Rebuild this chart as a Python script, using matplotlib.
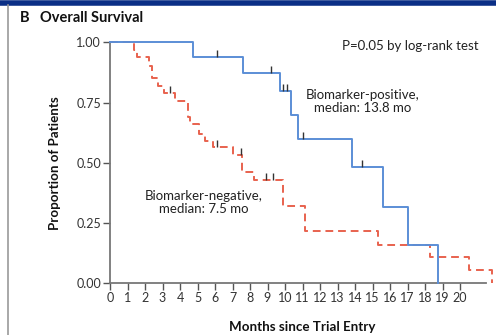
import matplotlib
matplotlib.use("Agg")
import matplotlib.pyplot as plt
from matplotlib.lines import Line2D

plt.rcParams['font.family'] = ['Lato', 'DejaVu Sans']

# Biomarker-positive (blue) step curve
pos_t = [0, 4.72, 7.58, 9.71, 10.32, 10.72, 13.81, 15.62, 17.03, 18.76]
pos_s = [1.0, 0.938, 0.871, 0.798, 0.698, 0.600, 0.484, 0.318, 0.159, 0.0]
pos_cens_t = [6.13, 9.2, 9.9, 10.1, 11.05, 14.42]

# Biomarker-negative (red) step curve
neg_t = [0, 1.35, 1.55, 2.25, 2.4, 2.75, 3.1, 3.7, 4.45, 4.55, 5.1, 5.4, 5.9,
         7.0, 7.55, 8.2, 9.9, 11.15, 15.3, 18.3, 20.5, 21.8]
neg_s = [1.0, 0.97, 0.94, 0.90, 0.853, 0.82, 0.79, 0.756, 0.69, 0.66, 0.62, 0.59,
         0.567, 0.532, 0.46, 0.43, 0.32, 0.217, 0.159, 0.108, 0.055, 0.0]
neg_cens_t = [3.43, 6.1, 7.47, 8.9, 9.3]

x_ticks = list(range(0, 21))
y_ticks = [0.0, 0.25, 0.5, 0.75, 1.0]
y_ticklabels = ["0.00", "0.25", "0.50", "0.75", "1.00"]


def surv_at(ts, ss, t):
    v = ss[0]
    for ti, si in zip(ts, ss):
        if ti <= t:
            v = si
    return v


W, H = 496, 335
fig = plt.figure(figsize=(W / 100, H / 100), dpi=100)
fig.patch.set_facecolor("white")

ax = fig.add_axes([110 / W, 1 - 283.3 / H, (495 - 110) / W, (283.3 - 42.3) / H])
ax.set_xlim(0, 22)
ax.set_ylim(0, 1)

blue = "#5b8ed6"
red = "#e8624e"
ax.step(pos_t + [pos_t[-1]], pos_s + [pos_s[-1]], where="post", color=blue, lw=1.4,
        clip_on=False, zorder=3)
ax.step(neg_t, neg_s, where="post", color=red, lw=1.4, ls=(0, (4, 2.5)),
        clip_on=False, zorder=2)

for t in pos_cens_t:
    ax.plot([t], [surv_at(pos_t, pos_s, t)], marker=2, ms=5, mew=1.0,
            color="#333333", zorder=4, clip_on=False)
for t in neg_cens_t:
    ax.plot([t], [surv_at(neg_t, neg_s, t)], marker=2, ms=5, mew=1.0,
            color="#333333", zorder=4, clip_on=False)

for s in ["top", "right"]:
    ax.spines[s].set_visible(False)
for s in ["left", "bottom"]:
    ax.spines[s].set_color("#777777")
    ax.spines[s].set_linewidth(1.3)
ax.spines["bottom"].set_bounds(0, 21.5)

ax.set_xticks(x_ticks)
ax.set_xticklabels([str(v) for v in x_ticks])
ax.set_yticks(y_ticks)
ax.set_yticklabels(y_ticklabels)
ax.tick_params(axis="both", direction="out", length=5, width=1.0, color="#555555",
               labelsize=9, labelcolor="#333333", pad=1.5)

ax.set_ylabel("Proportion of Patients", fontsize=9.6, fontweight="bold", labelpad=11,
              color="#111111")
ax.set_xlabel("Months since Trial Entry", fontsize=9.6, fontweight="bold", labelpad=12,
              color="#111111")

ax.text(21.05, 0.985, "P=0.05 by log-rank test", ha="right", va="center", fontsize=9.5,
        color="#222222")
ax.text(14.45, 0.755, "Biomarker-positive,\nmedian: 13.8 mo", ha="center", va="center",
        fontsize=9.5, color="#222222", linespacing=1.15)
ax.text(5.35, 0.335, "Biomarker-negative,\nmedian: 7.5 mo", ha="center", va="center",
        fontsize=9.5, color="#222222", linespacing=1.15)

# Frame decorations
fig.add_artist(Line2D([0, 1], [1 - 2.5 / H, 1 - 2.5 / H], color="#0b2f86", lw=4,
                      transform=fig.transFigure))
fig.add_artist(Line2D([8 / W, 8 / W], [0, 1 - 5 / H], color="#999999", lw=1.2,
                      transform=fig.transFigure))

fig.text(20 / W, 1 - 18 / H, "B", fontsize=10.5, fontweight="bold", va="center",
         color="#111111")
fig.text(40 / W, 1 - 18 / H, "Overall Survival", fontsize=10.5, fontweight="bold",
         va="center", color="#111111")

fig.savefig("out.png", dpi=100, facecolor="white")
